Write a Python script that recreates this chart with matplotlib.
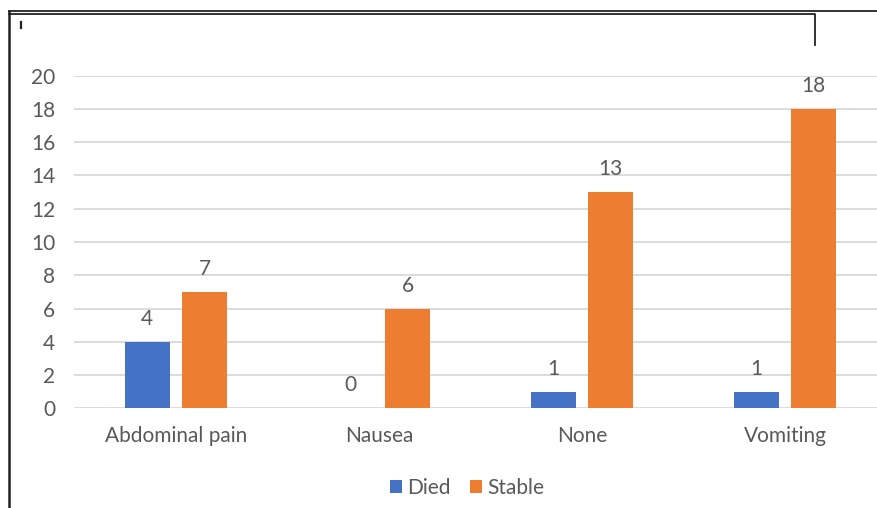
import numpy as np
import matplotlib
matplotlib.use("Agg")
import matplotlib.pyplot as plt
from matplotlib.lines import Line2D

plt.rcParams['font.family'] = ['Lato', 'DejaVu Sans']

# Symptom groups and patient outcome counts
categories = ['Abdominal pain', 'Nausea', 'None', 'Vomiting']
died = [4, 0, 1, 1]
stable = [7, 6, 13, 18]
series_names = ['Died', 'Stable']

BLUE = '#4472C4'
ORANGE = '#ED7D31'
TEXT = '#595959'
GRID = '#D9D9D9'
FS = 15

W, H = 878, 508
fig = plt.figure(figsize=(W / 100, H / 100), dpi=100)

# plot area in pixel terms: x from 74.5 to 886.5 (runs past the right edge), y from 75.7 to 408.3
left, right, top, bottom = 74.5, 886.5, 75.7, 408.3
ax = fig.add_axes([left / W, (H - bottom) / H, (right - left) / W, (bottom - top) / H])

x = np.arange(len(categories))
bw = 0.224
off = 0.1416
b1 = ax.bar(x - off, died, bw, color=BLUE, label=series_names[0], zorder=3)
b2 = ax.bar(x + off, stable, bw, color=ORANGE, label=series_names[1], zorder=3)

for bars, vals in ((b1, died), (b2, stable)):
    for rect, v in zip(bars, vals):
        ax.annotate(str(v), (rect.get_x() + rect.get_width() / 2, v),
                    xytext=(0, 16.5), textcoords='offset points',
                    ha='center', va='center', fontsize=FS, color=TEXT)

ax.set_xlim(-0.5, len(categories) - 0.5)
ax.set_ylim(0, 20)
ax.set_yticks(range(0, 21, 2))
ax.set_xticks(x)
ax.set_xticklabels(categories)
ax.grid(axis='y', color=GRID, linewidth=1.3, zorder=0)
ax.tick_params(axis='both', length=0, labelsize=FS, labelcolor=TEXT)
ax.tick_params(axis='y', pad=14)
ax.tick_params(axis='x', pad=13)
for s in ax.spines.values():
    s.set_visible(False)

fig.legend(handles=[b1, b2], labels=series_names, loc='center',
           bbox_to_anchor=(467 / W, 1 - 488 / H), ncol=2, frameon=False,
           fontsize=FS, labelcolor=TEXT, handlelength=0.6, handleheight=0.6,
           handletextpad=0.25, columnspacing=0.9)

# frame lines around the chart
def px_line(xs, ys, lw=1.3):
    fig.add_artist(Line2D([v / W for v in xs], [1 - v / H for v in ys],
                          color='#222222', linewidth=lw))

px_line([8.5, 878], [10.7, 10.7])
px_line([8.5, 815, 815], [13.5, 13.5, 45])
px_line([8.5, 8.5], [10.7, 508], lw=1.8)
px_line([21, 21], [22, 28], lw=1.6)

fig.savefig('out.png', dpi=100)
